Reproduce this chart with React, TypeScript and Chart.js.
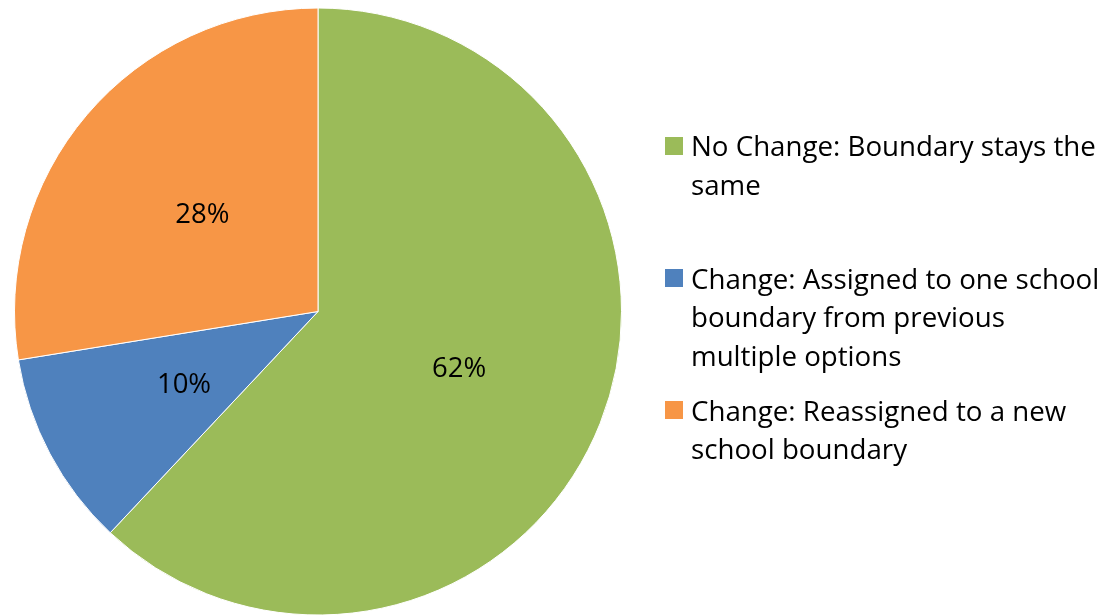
import React, { useEffect, useRef } from "react";
import { Chart, registerables } from "chart.js";

Chart.register(...registerables);

const categories = [
  "No Change: Boundary stays the same",
  "Change: Assigned to one school boundary from previous multiple options",
  "Change: Reassigned to a new school boundary",
];
const values = [62.0, 10.45, 27.55];
const colors = ["#9BBB59", "#4F81BD", "#F79646"];
const legendLines = [
  ["No Change: Boundary stays the", "same"],
  ["Change: Assigned to one school", "boundary from previous", "multiple options"],
  ["Change: Reassigned to a new", "school boundary"],
];
const legendCenters = [145.5, 278, 410];

const FONT = "'Open Sans', sans-serif";

const labelPlugin = {
  id: "sliceLabels",
  afterDatasetsDraw(chart: any) {
    const ctx = chart.ctx;
    const meta = chart.getDatasetMeta(0);
    const data = chart.data.datasets[0].data as number[];
    const total = data.reduce((a, b) => a + b, 0);
    ctx.save();
    ctx.font = `27.5px ${FONT}`;
    ctx.fillStyle = "#000";
    ctx.textAlign = "center";
    ctx.textBaseline = "middle";
    meta.data.forEach((arc: any, i: number) => {
      const p = arc.tooltipPosition();
      ctx.fillText(Math.round((data[i] / total) * 100) + "%", p.x, p.y + 2);
    });
    ctx.restore();
  },
};

export default function App() {
  const ref = useRef<HTMLCanvasElement>(null);
  useEffect(() => {
    const chart = new Chart(ref.current!, {
      type: "pie",
      data: {
        labels: categories,
        datasets: [
          {
            data: values,
            backgroundColor: colors,
            borderColor: "#ffffff",
            borderWidth: 1,
          },
        ],
      },
      options: {
        animation: false,
        responsive: false,
        rotation: 0,
        layout: { padding: { left: 14, right: 489, top: 7.5, bottom: 0.5 } },
        plugins: {
          legend: { display: false },
          tooltip: { enabled: false },
        },
      },
      plugins: [labelPlugin],
    });
    return () => chart.destroy();
  }, []);

  return (
    <div
      style={{
        position: "fixed",
        left: 0,
        top: 0,
        width: 1111,
        height: 616,
        background: "#fff",
        fontFamily: FONT,
      }}
    >
      <canvas ref={ref} width={1111} height={616} style={{ position: "absolute", left: 0, top: 0 }} />
      {legendLines.map((lines, i) => (
        <div key={i}>
          <div
            style={{
              position: "absolute",
              left: 665,
              top: legendCenters[i] - 9,
              width: 18,
              height: 18,
              background: colors[i],
            }}
          />
          <div
            style={{
              position: "absolute",
              left: 691,
              top: legendCenters[i] - 19.25,
              fontSize: 27.7,
              lineHeight: "38.5px",
              color: "#000",
              whiteSpace: "nowrap",
            }}
          >
            {lines.map((l, j) => (
              <div key={j}>{l}</div>
            ))}
          </div>
        </div>
      ))}
    </div>
  );
}
